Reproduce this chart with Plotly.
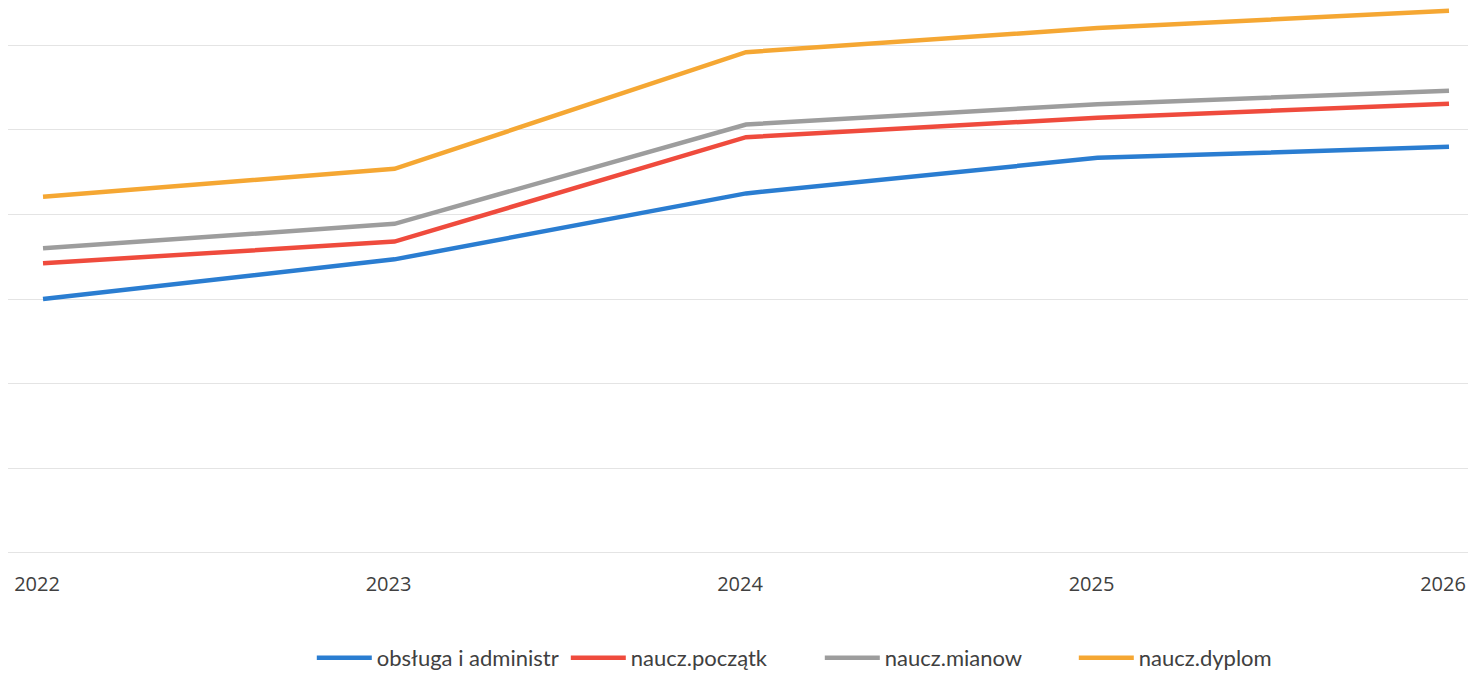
import plotly.graph_objects as go

# years on the category axis
years = [2022, 2023, 2024, 2025, 2026]

# series values (gridlines every 1000)
obsluga = [3000, 3470, 4250, 4670, 4800]
naucz_poczatk = [3424, 3680, 4915, 5145, 5310]
naucz_mianow = [3600, 3890, 5065, 5305, 5465]
naucz_dyplom = [4210, 4540, 5920, 6205, 6410]

series_names = ["obsługa i administr", "naucz.początk", "naucz.mianow", "naucz.dyplom"]
series_values = [obsluga, naucz_poczatk, naucz_mianow, naucz_dyplom]
series_colors = ["#2a7dd1", "#ef4b3d", "#9d9d9d", "#f5a733"]

fig = go.Figure()

for name, values, color in zip(series_names, series_values, series_colors):
    fig.add_trace(go.Scatter(
        x=years,
        y=values,
        name=name,
        mode="lines",
        line=dict(color=color, width=4.5),
    ))

# the page body adds an 8px margin, so the figure is drawn 8px smaller
fig.update_layout(
    width=1468,
    height=669,
    margin=dict(l=0, r=0, t=0, b=124, autoexpand=False),
    paper_bgcolor="white",
    plot_bgcolor="white",
    font=dict(family="Lato, Open Sans, sans-serif", color="#404040"),
    showlegend=True,
    legend=dict(
        orientation="h",
        x=0.553,
        xanchor="center",
        yref="container",
        y=0.0284,
        yanchor="middle",
        font=dict(size=22, color="#404040"),
        itemwidth=55,
        entrywidth=184,
    ),
    xaxis=dict(
        range=[2021.9004, 2026.0768],
        tickvals=years,
        ticktext=[str(y) for y in years],
        showgrid=False,
        zeroline=False,
        showline=False,
        ticks="",
        automargin=False,
        ticklabelstandoff=17,
        ticklabelshift=-6,
        tickfont=dict(size=20, color="#404040", family="Open Sans, sans-serif"),
    ),
    yaxis=dict(
        range=[-2, 6442],
        dtick=1000,
        tick0=0,
        showticklabels=False,
        showgrid=True,
        gridcolor="#e4e4e4",
        gridwidth=1,
        zeroline=True,
        zerolinecolor="#e4e4e4",
        zerolinewidth=1,
        showline=False,
        automargin=False,
    ),
)

fig.write_html("out.html")
